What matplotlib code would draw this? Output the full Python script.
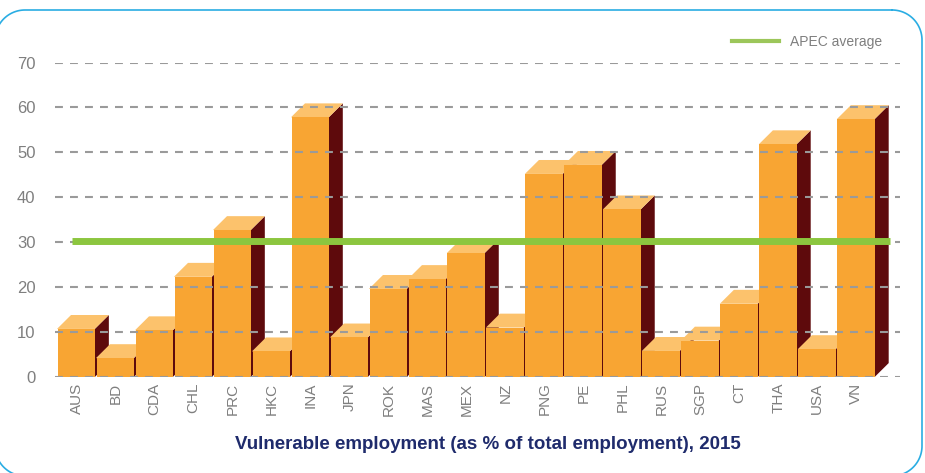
import matplotlib
matplotlib.use("Agg")
import numpy as np
import matplotlib.pyplot as plt
from matplotlib.patches import Polygon
from matplotlib.lines import Line2D

# data
economies = ["AUS", "BD", "CDA", "CHL", "PRC", "HKC", "INA", "JPN", "ROK", "MAS", "MEX",
             "NZ", "PNG", "PE", "PHL", "RUS", "SGP", "CT", "THA", "USA", "VN"]
vulnerable = [10.7, 4.2, 10.4, 22.3, 32.7, 5.7, 57.8, 8.8, 19.6, 21.8, 27.6,
              11.0, 45.2, 47.2, 37.3, 5.8, 8.1, 16.3, 51.8, 6.2, 57.4]
apec_average = 30.2
yticks = [0, 10, 20, 30, 40, 50, 60, 70]

plt.rcParams['font.family'] = ['Liberation Sans', 'DejaVu Sans']

front_c = "#F8A533"
top_c = "#FCC26C"
side_c = "#5E0A0C"
grey = "#7f7f7f"
green = "#8CC63F"

W, H = 925, 473
fig = plt.figure(figsize=(W / 100, H / 100), dpi=100)

# rounded frame in pixel units (y down), corners as circle arcs
bg = fig.add_axes([0, 0, 1, 1])
bg.set_xlim(0, W)
bg.set_ylim(H, 0)
bg.axis("off")
left, right, top, bottom, r = -5, 922, 10, 476, 30
corners = [(right - r, top + r, -90, 0), (right - r, bottom - r, 0, 90),
           (left + r, bottom - r, 90, 180), (left + r, top + r, 180, 270)]
fx, fy = [], []
for cx, cy, a0, a1 in corners:
    t = np.radians(np.linspace(a0, a1, 30))
    fx.extend(cx + r * np.cos(t))
    fy.extend(cy + r * np.sin(t))
fx.append(fx[0])
fy.append(fy[0])
bg.plot(fx, fy, color="#2AADE3", lw=1.2, clip_on=False)

ax = fig.add_axes([55 / W, 96 / H, 845 / W, 314.5 / H])
ax.set_xlim(-0.551, 21.12)
ax.set_ylim(0, 70)

dx, dy = 0.36, 3.1
fw = 0.97
for i, v in enumerate(vulnerable):
    x0 = i - 0.5
    x1 = x0 + fw
    side = Polygon([(x1, 0), (x1 + dx, dy), (x1 + dx, v + dy), (x1, v)],
                   closed=True, facecolor=side_c, edgecolor="none", clip_on=False)
    topf = Polygon([(x0, v), (x1, v), (x1 + dx, v + dy), (x0 + dx, v + dy)],
                   closed=True, facecolor=top_c, edgecolor="none", clip_on=False)
    ax.add_patch(side)
    ax.add_patch(topf)
    ax.bar(i, v, width=fw, align="center", color=front_c, edgecolor="none")

ax.set_axisbelow(False)
ax.yaxis.grid(True, color="#9a9a9a", lw=1.5, linestyle=(0, (3.8, 3.4)))
ax.set_yticks(yticks)
ax.set_yticklabels([str(t) for t in yticks], color=grey, fontsize=12)
ax.set_xticks(range(len(economies)))
ax.set_xticklabels(economies, rotation=90, color=grey, fontsize=11)
ax.tick_params(axis="both", length=0)
ax.tick_params(axis="y", pad=14)
ax.tick_params(axis="x", pad=4)
for s in ax.spines.values():
    s.set_visible(False)
ax.patch.set_alpha(0)

ax.hlines(apec_average, -0.12, 20.86, color=green, lw=5, zorder=4)
handle = Line2D([], [], color="#9CC65A", lw=3, label="APEC average")
ax.legend(handles=[handle], loc="center right", bbox_to_anchor=(895 / W, 1 - 42 / H),
          bbox_transform=fig.transFigure, frameon=False, fontsize=10,
          labelcolor=grey, handlelength=3.4, handletextpad=0.8)

fig.text(488 / W, 1 - 444 / H,
         "Vulnerable employment (as % of total employment), 2015",
         ha="center", va="center", color="#1F2B6C", fontsize=13.5, fontweight="bold")

fig.savefig("out.png", dpi=100)
